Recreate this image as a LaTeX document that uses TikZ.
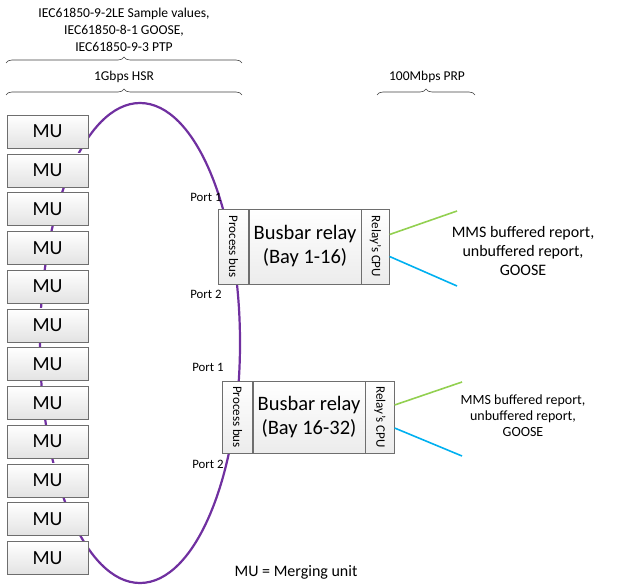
\documentclass[tikz,border=0pt]{standalone}
\usepackage{fontspec}
\setmainfont{Carlito}
\usetikzlibrary{positioning}
\usetikzlibrary{decorations.pathreplacing}

\definecolor{ringpurple}{HTML}{7030A0}
\definecolor{mmsgreen}{HTML}{92D050}
\definecolor{mmsblue}{HTML}{00B0F0}
\definecolor{boxgray}{HTML}{6E6E6E}

\tikzset{
    mubox/.style={draw=boxgray, top color=white, bottom color=gray!22, minimum width=81pt, minimum height=33pt, inner sep=0pt, font=\fontsize{20}{22}\selectfont},
    relaymain/.style={draw=boxgray, top color=white, bottom color=gray!15, minimum width=112pt, inner sep=0pt, align=center, font=\fontsize{20.5}{24}\selectfont},
    subbox/.style={draw=boxgray, top color=white, bottom color=gray!15, inner sep=0pt, font=\fontsize{13}{15}\selectfont},
    ring/.style={draw=ringpurple, line width=2.2pt},
    greenlink/.style={draw=mmsgreen, line width=1.6pt},
    bluelink/.style={draw=mmsblue, line width=1.6pt},
    brace/.style={decorate, decoration={brace, amplitude=6pt}, draw=black!75, line width=0.6pt},
    portlabel/.style={font=\fontsize{12.8}{14}\selectfont, inner sep=0pt}
}

\begin{document}
\begin{tikzpicture}[x=1pt, y=-1pt]
    \useasboundingbox (0,0) rectangle (617,585);

    % 顶部说明与括号
    \node[align=center, font=\fontsize{13.6}{17}\selectfont] (proto) at (124,30) {IEC61850-9-2LE Sample values,\\IEC61850-8-1 GOOSE,\\IEC61850-9-3 PTP};
    \draw[brace] (6,63) -- (242,63);
    \node[font=\fontsize{13.5}{16}\selectfont] (hsr) at (124,77) {1Gbps HSR};
    \draw[brace] (6,95) -- (242,95);
    \node[font=\fontsize{13.5}{16}\selectfont] (prp) at (427,77) {100Mbps PRP};
    \draw[brace] (377,95) -- (475,95);

    % HSR 环
    \draw[ring] (140,343) ellipse [x radius=100, y radius=240];

    % 合并单元
    \foreach \i in {1,...,12}
        \node[mubox] (mu\i) at (47.5,{131.5+38.75*(\i-1)}) {MU};

    % 母线保护 1
    \node[relaymain, minimum height=75pt] (relayA) at (305,246.5) {Busbar relay\\(Bay 1-16)};
    \node[subbox, minimum width=30pt, minimum height=75pt, left=0pt of relayA] (procA) {\rotatebox{-90}{Process bus}};
    \node[subbox, minimum width=28pt, minimum height=75pt, right=0pt of relayA] (cpuA) {\rotatebox{-90}{Relay’s CPU}};
    \node[portlabel] (portA1) at (206,197) {Port 1};
    \node[portlabel] (portA2) at (206,294) {Port 2};
    \coordinate (gA) at (457,211);
    \coordinate (bA) at (457,286);
    \draw[greenlink] ([yshift=12pt]cpuA.east) -- (gA);
    \draw[bluelink] ([yshift=-10pt]cpuA.east) -- (bA);
    \node[align=center, font=\fontsize{16}{19}\selectfont] (mmsA) at (523,251) {MMS buffered report,\\unbuffered report,\\GOOSE};

    % 母线保护 2
    \node[relaymain, minimum height=72pt] (relayB) at (309,417) {Busbar relay\\(Bay 16-32)};
    \node[subbox, minimum width=30pt, minimum height=72pt, left=0pt of relayB] (procB) {\rotatebox{-90}{Process bus}};
    \node[subbox, minimum width=29pt, minimum height=72pt, right=0pt of relayB] (cpuB) {\rotatebox{-90}{Relay’s CPU}};
    \node[portlabel] (portB1) at (208,367) {Port 1};
    \node[portlabel] (portB2) at (208,464) {Port 2};
    \coordinate (gB) at (462,382);
    \coordinate (bB) at (462,456);
    \draw[greenlink] ([yshift=12pt]cpuB.east) -- (gB);
    \draw[bluelink] ([yshift=-11pt]cpuB.east) -- (bB);
    \node[align=center, font=\fontsize{14}{16}\selectfont] (mmsB) at (523,416) {MMS buffered report,\\unbuffered report,\\GOOSE};

    % 图例
    \node[font=\fontsize{16}{18}\selectfont] (legend) at (296,572) {MU = Merging unit};
\end{tikzpicture}
\end{document}
